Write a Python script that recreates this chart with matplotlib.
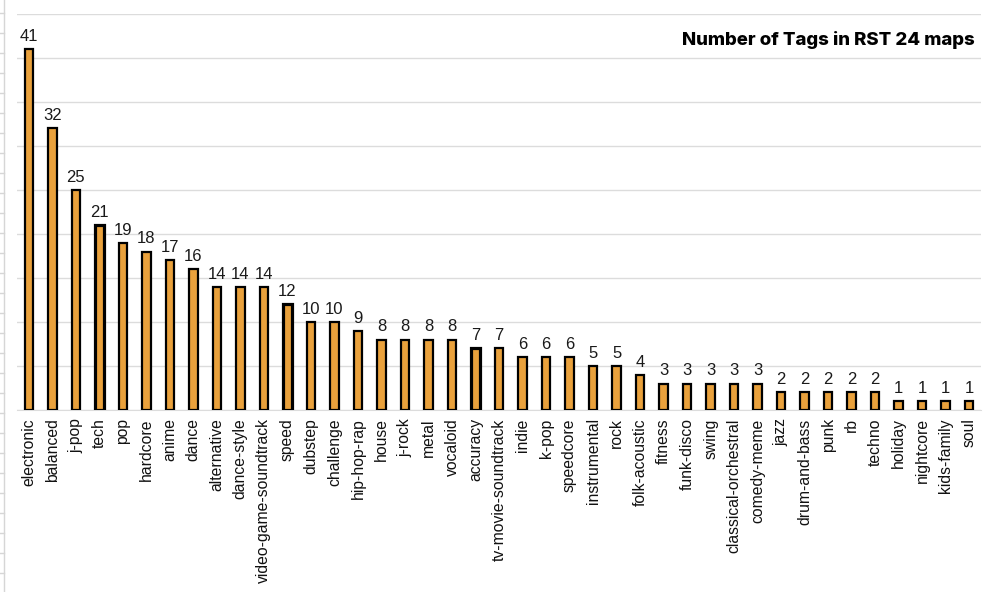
import matplotlib.pyplot as plt
from matplotlib.lines import Line2D
import numpy as np

tags = ['electronic', 'balanced', 'j-pop', 'tech', 'pop', 'hardcore', 'anime', 'dance',
        'alternative', 'dance-style', 'video-game-soundtrack', 'speed', 'dubstep',
        'challenge', 'hip-hop-rap', 'house', 'j-rock', 'metal', 'vocaloid', 'accuracy',
        'tv-movie-soundtrack', 'indie', 'k-pop', 'speedcore', 'instrumental', 'rock',
        'folk-acoustic', 'fitness', 'funk-disco', 'swing', 'classical-orchestral',
        'comedy-meme', 'jazz', 'drum-and-bass', 'punk', 'rb', 'techno', 'holiday',
        'nightcore', 'kids-family', 'soul']
counts = [41, 32, 25, 21, 19, 18, 17, 16, 14, 14, 14, 12, 10, 10, 9, 8, 8, 8, 8, 7,
          7, 6, 6, 6, 5, 5, 4, 3, 3, 3, 3, 3, 2, 2, 2, 2, 2, 1, 1, 1, 1]
# tags drawn with a heavier outline
highlight = ['tech', 'speed', 'accuracy']

fig = plt.figure(figsize=(9.96, 5.92), dpi=100)
ax = fig.add_axes([17 / 996, 1 - 410 / 592, 964 / 996, 396 / 592])

x = np.arange(len(tags))
lw = [2.3 if t in highlight else 1.6 for t in tags]
bars = ax.bar(x, counts, width=0.36, color='#E9A13C', edgecolor='black', linewidth=lw, zorder=3)

for xi, v in zip(x, counts):
    ax.text(xi, v + 0.6, str(v), ha='center', va='bottom', fontsize=12,
            family='Liberation Sans', color='#1a1a1a')

ax.set_xlim(-0.5, len(tags) - 0.5)
ax.set_ylim(0, 45)
ax.set_yticks(np.arange(0, 46, 5))
ax.set_yticklabels([])
ax.tick_params(axis='y', length=0)
ax.tick_params(axis='x', length=0, pad=6)
ax.set_xticks(x)
ax.set_xticklabels(tags, rotation=90, fontsize=11.3, family='Liberation Sans', color='#111111')
ax.grid(axis='y', color='#dcdcdc', linewidth=1, zorder=0)
for s in ['top', 'right', 'left']:
    ax.spines[s].set_visible(False)
ax.spines['bottom'].set_color('#dcdcdc')

fig.text(975 / 996, 1 - 40 / 592, 'Number of Tags in RST 24 maps', ha='right', va='center',
         fontsize=13.4, fontweight='heavy', family='Inter')

# spreadsheet row marks on the left edge
fig.add_artist(Line2D([4 / 996, 4 / 996], [0, 1], color='#d6d6d6', linewidth=1))
for yy in range(13, 592, 20):
    fig.add_artist(Line2D([0, 4 / 996], [1 - yy / 592, 1 - yy / 592], color='#d6d6d6', linewidth=1))

fig.savefig('out.png', dpi=100)
